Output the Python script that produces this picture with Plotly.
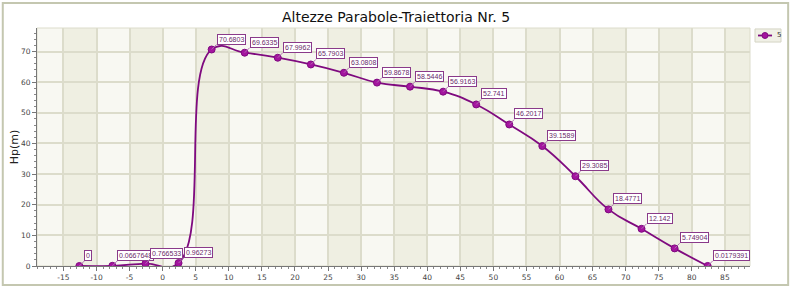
import plotly.graph_objects as go

# Data
x_vals = [-12.6, -7.6, -2.6, 2.4, 7.4, 12.4, 17.4, 22.4, 27.4, 32.4,
          37.4, 42.4, 47.4, 52.4, 57.4, 62.4, 67.4, 72.4, 77.4, 82.4]
y_vals = [0, 0.0667648, 0.766533, 0.96273, 70.6803, 69.6335, 67.9962, 65.7903,
          63.0808, 59.8678, 58.5446, 56.9163, 52.741, 46.2017, 39.1589, 29.3085,
          18.4771, 12.142, 5.74904, 0.0179391]
labels = ["0", "0.0667648", "0.766533", "0.96273", "70.6803", "69.6335", "67.9962",
          "65.7903", "63.0808", "59.8678", "58.5446", "56.9163", "52.741", "46.2017",
          "39.1589", "29.3085", "18.4771", "12.142", "5.74904", "0.0179391"]
series_name = "5"
title = "Altezze Parabole-Traiettoria Nr. 5"
y_title = "Hp(m)"
x_range = [-19, 88.8]
y_range = [0, 77.7]
x_ticks = list(range(-15, 90, 5))
y_ticks = list(range(0, 80, 10))

LINE = "#7f0a7f"
MARK = "#a4149f"

fig = go.Figure()
fig.add_trace(go.Scatter(
    x=x_vals, y=y_vals, name=series_name, mode="lines+markers",
    line=dict(color=LINE, width=1.8, shape="spline", smoothing=1.3),
    marker=dict(color=MARK, size=7, line=dict(color=LINE, width=1)),
    showlegend=False,
))

shapes = []
# alternating vertical bands
edges = [x_range[0]] + x_ticks + [x_range[1]]
for i in range(len(edges) - 1):
    a, b = edges[i], edges[i + 1]
    dark = (a in x_ticks) and ((a + 15) % 10 == 0)
    shapes.append(dict(type="rect", xref="x", yref="paper", x0=a, x1=b, y0=0, y1=1,
                       fillcolor="#efefe2" if dark else "#f8f8f2",
                       line=dict(width=0), layer="below"))
# plot frame
shapes.append(dict(type="rect", xref="paper", yref="paper", x0=0, x1=1, y0=0, y1=1,
                   line=dict(color="#dcdccb", width=1), layer="below"))
# outer frame
shapes.append(dict(type="rect", xref="paper", yref="paper",
                   x0=-0.048, x1=1.0535, y0=-0.08, y1=1.105,
                   line=dict(color="#c4c7b0", width=2), fillcolor="rgba(0,0,0,0)"))
# custom compact legend (box, line, marker)
shapes.append(dict(type="rect", xref="paper", yref="paper",
                   x0=1.007, x1=1.0435, y0=0.941, y1=0.996,
                   line=dict(color="#d4d4c4", width=1), fillcolor="#f0f0e6"))
shapes.append(dict(type="line", xref="paper", yref="paper",
                   x0=1.0112, x1=1.0309, y0=0.9685, y1=0.9685,
                   line=dict(color=LINE, width=1.8)))
shapes.append(dict(type="circle", xref="paper", yref="paper",
                   x0=1.0168, x1=1.0252, y0=0.956, y1=0.981,
                   line=dict(color=LINE, width=1), fillcolor=MARK))

annotations = []
for xv, yv, t in zip(x_vals, y_vals, labels):
    annotations.append(dict(
        x=xv, y=yv, text=t, showarrow=True, arrowhead=0, arrowwidth=1,
        arrowcolor="#b070b0", ax=5, ay=-5, xanchor="left", yanchor="bottom",
        bordercolor="#8a3a8a", borderwidth=1, borderpad=1, bgcolor="white",
        font=dict(family="Liberation Sans", size=7, color="#6a2a6a"),
    ))
annotations.append(dict(x=1.0345, y=0.9685, xref="paper", yref="paper", text=series_name,
                        showarrow=False, xanchor="left", yanchor="middle",
                        font=dict(family="DejaVu Sans", size=7, color="#333")))

fig.update_layout(
    width=792, height=289,
    margin=dict(l=37, r=42, t=28, b=23, autoexpand=False),
    paper_bgcolor="white", plot_bgcolor="#f8f8f2",
    title=dict(text=title, x=0.5, xref="container", xanchor="center", y=0.94, yanchor="middle",
               font=dict(family="DejaVu Sans", size=14, color="#111")),
    showlegend=False,
    shapes=shapes, annotations=annotations,
    xaxis=dict(range=x_range, tickmode="array", tickvals=x_ticks,
               ticktext=[str(v) for v in x_ticks],
               showgrid=True, gridcolor="#dcdccb", gridwidth=1.5,
               zeroline=False, showline=True, linecolor="#777", linewidth=1,
               ticks="outside", ticklen=4, tickcolor="#777",
               minor=dict(dtick=1, ticks="outside", ticklen=2, tickcolor="#888", showgrid=False),
               tickfont=dict(family="DejaVu Sans", size=7.5, color="#444")),
    yaxis=dict(range=y_range, tickmode="array", tickvals=y_ticks,
               ticktext=[str(v) for v in y_ticks],
               showgrid=True, gridcolor="#dcdccb", gridwidth=1.5,
               zeroline=False, showline=True, linecolor="#777", linewidth=1,
               ticks="outside", ticklen=4, tickcolor="#777",
               minor=dict(dtick=2, ticks="outside", ticklen=2, tickcolor="#888", showgrid=False),
               tickfont=dict(family="DejaVu Sans", size=7.5, color="#444"),
               title=dict(text=y_title, standoff=0,
                          font=dict(family="DejaVu Sans", size=11, color="#222"))),
)

fig.write_html("out.html")
